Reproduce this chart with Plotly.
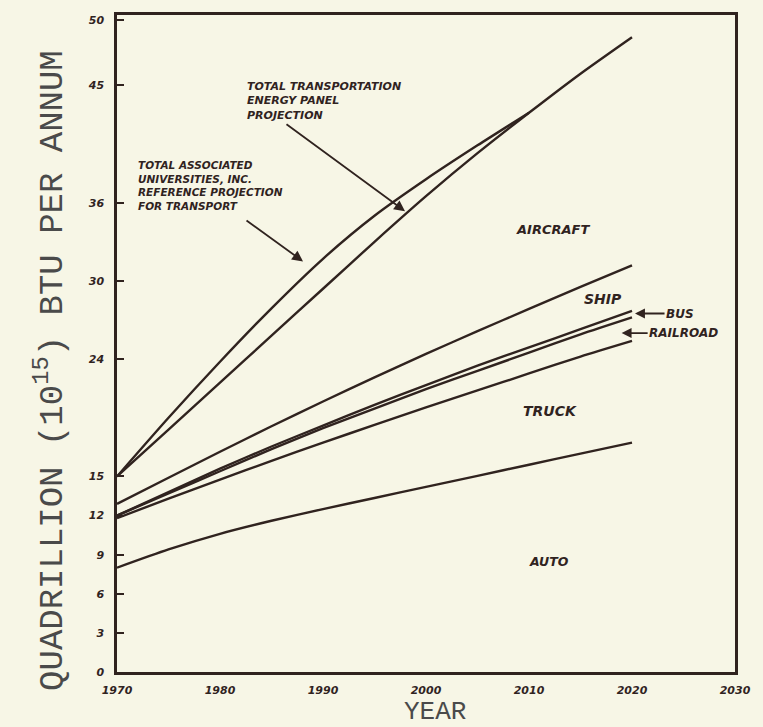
import plotly.graph_objects as go

years = [1970, 1975, 1980, 1985, 1990, 1995, 2000, 2005, 2010, 2015, 2020]
years_au = [1970, 1975, 1980, 1985, 1990, 1995, 2000, 2005, 2010]

# cumulative boundaries, quadrillion BTU per annum
total_tep = [15.0, 18.6, 22.2, 25.8, 29.4, 33.0, 36.5, 39.8, 42.9, 45.9, 48.7]
total_au = [15.0, 19.5, 23.8, 27.9, 31.7, 35.0, 37.8, 40.4, 42.9]
ship_top = [12.9, 14.9, 16.9, 18.85, 20.75, 22.6, 24.4, 26.15, 27.85, 29.55, 31.2]
bus_top = [12.0, 13.8, 15.6, 17.3, 18.9, 20.5, 22.0, 23.5, 24.9, 26.3, 27.7]
rail_top = [12.0, 13.7, 15.4, 17.1, 18.7, 20.2, 21.7, 23.1, 24.5, 25.9, 27.2]
truck_top = [11.8, 13.3, 14.75, 16.2, 17.6, 18.95, 20.3, 21.6, 22.9, 24.2, 25.4]
auto_top = [8.0, 9.4, 10.6, 11.6, 12.5, 13.35, 14.2, 15.05, 15.9, 16.75, 17.6]

y_ticks = [0, 3, 6, 9, 12, 15, 24, 30, 36, 45, 50]
y_tick_text = ["0", "3", "6", "9", "12", "15", "24", "30", "36", "45", "50"]
x_ticks = [1970, 1980, 1990, 2000, 2010, 2020, 2030]
x_tick_text = ["1970", "1980", "1990", "2000", "2010", "2020", "2030"]

INK = "#30231f"
BG = "#f7f6e6"
HANDFAM = "DejaVu Sans"
HAND = dict(family=HANDFAM, size=11, color=INK, weight="bold", style="italic")
TYPE = "Liberation Mono, Courier New, monospace"

fig = go.Figure()
series = [
    ("Total TEP", years, total_tep),
    ("Total AU", years_au, total_au),
    ("Ship top", years, ship_top),
    ("Bus top", years, bus_top),
    ("Railroad top", years, rail_top),
    ("Truck top", years, truck_top),
    ("Auto top", years, auto_top),
]
for name, xs, ys in series:
    fig.add_trace(go.Scatter(x=xs, y=ys, mode="lines", name=name,
                             line=dict(color=INK, width=2.4, shape="spline", smoothing=0.7),
                             showlegend=False, hoverinfo="skip"))

L, R, T, B = 117, 735, 13, 672


def px_text(x, y, text, size=11, anchor="left"):
    # position given in page pixels of the 763x727 canvas -> paper coords
    px = (x - L) / (R - L)
    py = (B - y) / (B - T)
    f = dict(HAND)
    f["size"] = size
    return dict(x=px, y=py, xref="paper", yref="paper", text=text, showarrow=False,
                xanchor=anchor, yanchor="middle", align="left", font=f)


ann = []
ann.append(dict(x=1997.96, y=35.35, xref="x", yref="y", text="", showarrow=True,
                ax=-120, ay=-88, arrowhead=2, arrowsize=1.2, arrowwidth=1.8, arrowcolor=INK))
ann.append(dict(x=1988.06, y=31.5, xref="x", yref="y", text="", showarrow=True,
                ax=-58, ay=-42, arrowhead=2, arrowsize=1.2, arrowwidth=1.8, arrowcolor=INK))
ann.append(px_text(245, 99, "TOTAL TRANSPORTATION<br>ENERGY PANEL<br>PROJECTION", 11))
ann.append(px_text(136, 184, "TOTAL ASSOCIATED<br>UNIVERSITIES, INC.<br>REFERENCE PROJECTION<br>FOR TRANSPORT", 10.5))
ann.append(px_text(514, 228, "AIRCRAFT", 13))
ann.append(px_text(582, 298, "SHIP", 14))
ann.append(px_text(521, 410, "TRUCK", 14))
ann.append(px_text(527, 561, "AUTO", 12.5))
f = dict(HAND)
f["size"] = 12
ann.append(dict(x=2020.1, y=27.5, xref="x", yref="y", text="BUS", showarrow=True,
                ax=47, ay=0, arrowhead=2, arrowsize=1.1, arrowwidth=1.8, arrowcolor=INK,
                font=f, standoff=2))
f2 = dict(HAND)
f2["size"] = 12
ann.append(dict(x=2018.8, y=26.0, xref="x", yref="y", text="RAILROAD", showarrow=True,
                ax=64, ay=0, arrowhead=2, arrowsize=1.1, arrowwidth=1.8, arrowcolor=INK,
                font=f2, standoff=2))

ann.append(dict(x=(50 - L) / (R - L), y=(B - 370) / (B - T), xref="paper", yref="paper",
                text="QUADRILLION (10<sup>15</sup>) BTU PER ANNUM", textangle=-90,
                showarrow=False, font=dict(family=TYPE, size=34, color="#4a4a4a"),
                xanchor="center", yanchor="middle"))
ann.append(dict(x=(435 - L) / (R - L), y=(B - 712) / (B - T), xref="paper", yref="paper",
                text="YEAR", showarrow=False, font=dict(family=TYPE, size=26, color="#4a4a4a"),
                xanchor="center", yanchor="middle"))

fig.update_layout(
    width=763, height=727,
    margin=dict(l=L, r=763 - R, t=T, b=727 - B),
    paper_bgcolor=BG, plot_bgcolor=BG,
    annotations=ann,
    xaxis=dict(range=[1970, 2030], tickmode="array", tickvals=x_ticks, ticktext=x_tick_text,
               showgrid=False, zeroline=False, ticks="", showline=True, linecolor=INK,
               linewidth=2.5, mirror=True, ticklabelstandoff=6,
               tickfont=dict(family=HANDFAM, size=11, color=INK, weight="bold", style="italic")),
    yaxis=dict(range=[0, 50.4], tickmode="array", tickvals=y_ticks, ticktext=y_tick_text,
               showgrid=False, zeroline=False, ticks="inside", ticklen=7, tickwidth=2, tickcolor=INK,
               showline=True, linecolor=INK, linewidth=2.5, mirror=True, ticklabelstandoff=8,
               tickfont=dict(family=HANDFAM, size=11, color=INK, weight="bold", style="italic")),
)

fig.write_html("out.html", config={"displayModeBar": False},
               post_script="document.body.style.margin='0';document.body.style.background='%s';" % BG)
